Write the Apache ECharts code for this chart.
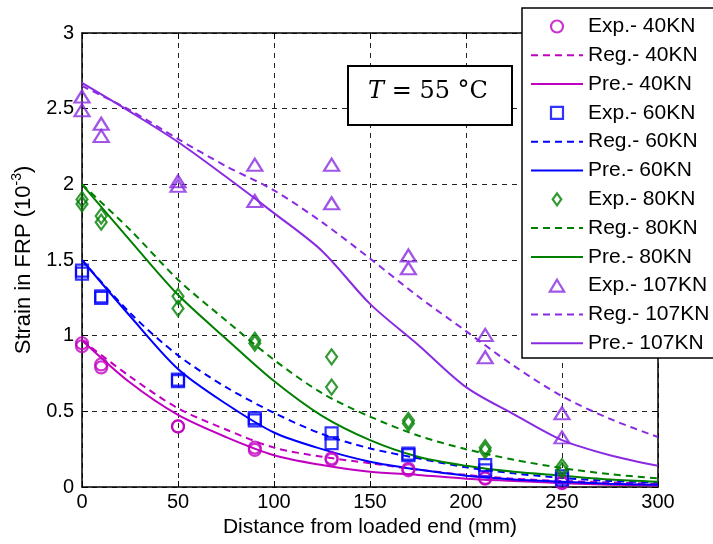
<!DOCTYPE html>
<html>
<head>
<meta charset="utf-8">
<script src="https://cdn.jsdelivr.net/npm/echarts@6/dist/echarts.min.js"></script>
<style>
  html, body { margin: 0; padding: 0; background: #fff; }
  #chart { width: 713px; height: 544px; }
</style>
</head>
<body>
<div id="chart"></div>
<script>
// measured positions (mm) of the strain gauges, two specimens each
const expX = [0, 0, 10, 10, 50, 50, 90, 90, 130, 130, 170, 170, 210, 210, 250, 250];
const exp40 = [0.95, 0.93, 0.81, 0.79, 0.40, 0.40, 0.26, 0.245, 0.19, 0.18, 0.12, 0.11, 0.06, 0.055, 0.03, 0.025];
const exp60 = [1.43, 1.41, 1.26, 1.25, 0.71, 0.70, 0.455, 0.44, 0.355, 0.29, 0.22, 0.21, 0.145, 0.11, 0.07, 0.05];
const exp80 = [1.90, 1.87, 1.79, 1.75, 1.26, 1.18, 0.97, 0.95, 0.86, 0.66, 0.44, 0.42, 0.26, 0.24, 0.135, 0.11];
const exp107 = [2.58, 2.49, 2.40, 2.32, 2.02, 1.99, 2.13, 1.89, 2.13, 1.875, 1.53, 1.445, 1.005, 0.857, 0.487, 0.328];

// curves
const curveX = [0, 25, 50, 75, 100, 125, 150, 175, 200, 225, 250, 275, 300];
const reg40 = [0.97, 0.73, 0.52, 0.38, 0.26, 0.20, 0.157, 0.115, 0.08, 0.055, 0.04, 0.03, 0.02];
const pre40 = [0.97, 0.69, 0.476, 0.33, 0.21, 0.145, 0.10, 0.08, 0.055, 0.04, 0.025, 0.015, 0.01];
const reg60 = [1.50, 1.15, 0.87, 0.66, 0.49, 0.35, 0.255, 0.19, 0.13, 0.09, 0.06, 0.04, 0.03];
const pre60 = [1.50, 1.13, 0.78, 0.55, 0.36, 0.25, 0.167, 0.115, 0.075, 0.05, 0.035, 0.022, 0.015];
const reg80 = [2.00, 1.70, 1.37, 1.10, 0.84, 0.62, 0.465, 0.34, 0.25, 0.18, 0.125, 0.085, 0.057];
const pre80 = [2.00, 1.63, 1.27, 0.98, 0.70, 0.47, 0.31, 0.20, 0.14, 0.10, 0.075, 0.05, 0.035];
const reg107 = [2.65, 2.49, 2.30, 2.12, 1.96, 1.75, 1.51, 1.26, 1.03, 0.80, 0.60, 0.45, 0.33];
const pre107 = [2.67, 2.48, 2.28, 2.05, 1.81, 1.56, 1.21, 0.94, 0.66, 0.48, 0.31, 0.21, 0.14];

const loads = ['40KN', '60KN', '80KN', '107KN'];
const colors = ['#C000C0', '#0000FF', '#008000', '#8A2BE2'];
const symbols = ['circle', 'rect', 'diamond', 'triangle'];
const symbolSizes = [12, 12, [11, 15], [15, 12]];
// legend icons keep their aspect when given as paths
const legendIcons = ['circle', 'path://M0,0L10,0L10,10L0,10Z', 'path://M5,0L10,7L5,14L0,7Z', 'path://M6,0L12,10L0,10Z'];
const expData = [exp40, exp60, exp80, exp107];
const regData = [reg40, reg60, reg80, reg107];
const preData = [pre40, pre60, pre80, pre107];

const font = 'Liberation Sans, Arial, sans-serif';
const zip = (xs, ys) => xs.map((x, i) => [x, ys[i]]);

const series = [];
const legendData = [];
loads.forEach((ld, i) => {
  const hollow = { color: 'rgba(255,255,255,0)', borderColor: colors[i], borderWidth: 2.2 };
  series.push({
    name: 'Exp.- ' + ld,
    type: 'scatter',
    symbol: symbols[i],
    symbolSize: symbolSizes[i],
    itemStyle: hollow,
    data: zip(expX, expData[i]),
    z: 3
  });
  legendData.push({ name: 'Exp.- ' + ld, icon: legendIcons[i], itemStyle: hollow });
  series.push({
    name: 'Reg.- ' + ld,
    type: 'line',
    smooth: 0.3,
    symbol: 'none',
    lineStyle: { color: colors[i], width: 2, type: [7, 5] },
    itemStyle: { color: colors[i] },
    data: zip(curveX, regData[i]),
    z: 2
  });
  legendData.push({ name: 'Reg.- ' + ld, itemStyle: { opacity: 0 } });
  series.push({
    name: 'Pre.- ' + ld,
    type: 'line',
    smooth: 0.3,
    symbol: 'none',
    lineStyle: { color: colors[i], width: 2 },
    itemStyle: { color: colors[i] },
    data: zip(curveX, preData[i]),
    z: 2
  });
  legendData.push({ name: 'Pre.- ' + ld, itemStyle: { opacity: 0 } });
});

const gridLine = { show: true, lineStyle: { color: '#222', type: [5, 5], width: 1 } };
const axisLine = { show: true, onZero: false, lineStyle: { color: '#000', width: 1.5 } };
const tickIn = { show: true, inside: true, length: 6, lineStyle: { color: '#000' } };

const chart = echarts.init(document.getElementById('chart'));
chart.setOption({
  animation: false,
  backgroundColor: '#fff',
  grid: { left: 82, right: 55, top: 33, bottom: 57 },
  xAxis: [{
    type: 'value', min: 0, max: 300, interval: 50,
    name: 'Distance from loaded end (mm)', nameLocation: 'middle', nameGap: 28,
    nameTextStyle: { fontFamily: font, fontSize: 21, color: '#000' },
    axisLine, axisTick: tickIn, splitLine: gridLine,
    axisLabel: { fontFamily: font, fontSize: 20, color: '#000', margin: 5 }
  }, {
    type: 'value', min: 0, max: 300, interval: 50, position: 'top',
    axisLine, axisTick: tickIn, splitLine: { show: false }, axisLabel: { show: false }
  }],
  yAxis: [{
    type: 'value', min: 0, max: 3, interval: 0.5,
    name: '{n|Strain in FRP (10}{s|-3}{n|)}', nameLocation: 'middle', nameGap: 38, nameRotate: 90,
    nameTextStyle: {
      rich: {
        n: { fontFamily: font, fontSize: 22, color: '#000', lineHeight: 28 },
        s: { fontFamily: font, fontSize: 14, color: '#000', verticalAlign: 'top', lineHeight: 28 }
      }
    },
    axisLine, axisTick: tickIn, splitLine: gridLine,
    axisLabel: { fontFamily: font, fontSize: 20, color: '#000', margin: 8 }
  }, {
    type: 'value', min: 0, max: 3, interval: 0.5, position: 'right',
    axisLine, axisTick: tickIn, splitLine: { show: false }, axisLabel: { show: false }
  }],
  legend: {
    orient: 'vertical',
    left: 522, top: 8,
    itemWidth: 52, itemHeight: 12, itemGap: 7.8,
    padding: [8, 10, 6, 8],
    textStyle: { fontFamily: font, fontSize: 21, color: '#000', lineHeight: 20 },
    data: legendData
  },
  graphic: [{
    // legend frame, running off the right edge like the original
    type: 'rect', z: 3, silent: true,
    shape: { x: 522, y: 8, width: 220, height: 350 },
    style: { fill: '#fff', stroke: '#000', lineWidth: 1.5 }
  }, {
    type: 'rect', left: 347, top: 65, z: 10,
    shape: { width: 164, height: 59 },
    style: { fill: '#fff', stroke: '#000', lineWidth: 2 }
  }, {
    type: 'text', left: 368, top: 80, z: 11,
    style: {
      text: '{i|T} = 55 °C',
      font: '24px "DejaVu Serif", serif',
      fill: '#000',
      rich: { i: { fontStyle: 'italic', fontFamily: 'DejaVu Serif', fontSize: 24 } }
    }
  }],
  series
});
</script>
</body>
</html>
